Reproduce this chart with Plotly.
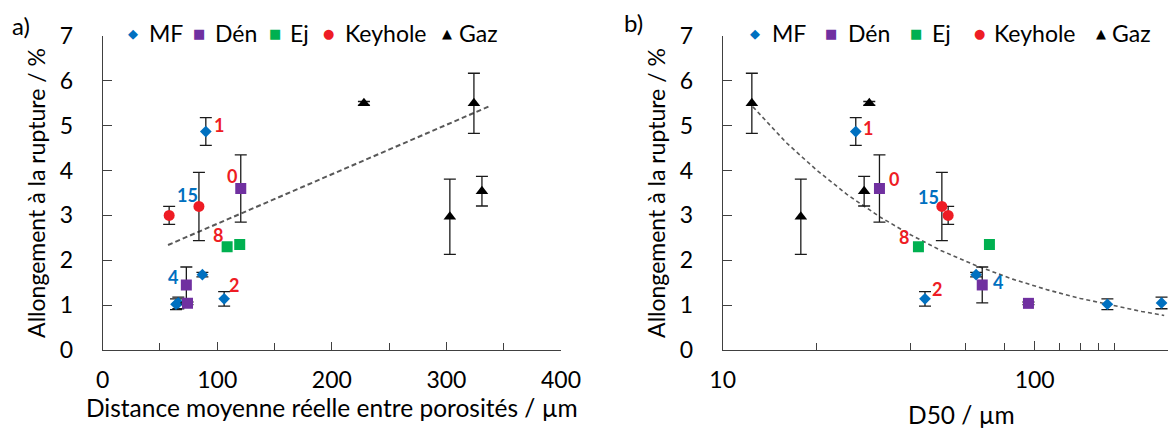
import math
import plotly.graph_objects as go

# the page puts the figure 8 px from the top-left corner, so the figure is 8 px smaller
OFF = 8
W, H = 1176 - OFF, 430 - OFF


def px(xp):
    return (xp - OFF) / W


def py(yp):
    return 1 - (yp - OFF) / H


# ---------------- data ----------------
series_names = ["MF", "Dén", "Ej", "Keyhole", "Gaz"]
series_colours = ["#0070C0", "#7030A0", "#00B050", "#EE1C24", "#000000"]
series_symbols = ["diamond", "square", "square", "circle", "triangle-up"]
series_glyphs = ["◆", "■", "■", "●", "▲"]

# elongation at rupture (%), shared by both panels
mf_y = [4.87, 1.68, 1.14, 1.02, 1.05]
mf_err = [0.31, 0.05, 0.16, 0.12, 0.13]
den_y = [3.60, 1.45, 1.04]
den_err = [0.75, 0.40, 0.03]
ej_y = [2.30, 2.35]
ej_err = [0.0, 0.0]
key_y = [3.00, 3.20]
key_err = [0.20, 0.76]
gaz_y = [5.50, 2.97, 3.54, 5.50]
gaz_err = [0.67, 0.84, 0.33, 0.04]

# panel a) mean real distance between pores (µm)
mf_dist = [90, 87, 106, 64, 66]
den_dist = [120.5, 73, 74]
ej_dist = [108.6, 119.6]
key_dist = [58, 84]
gaz_dist = [324, 303, 331, 228]

# panel b) D50 (µm)
mf_d50 = [26.7, 64.9, 44.5, 171, 255]
den_d50 = [31.8, 67.9, 95.5]
ej_d50 = [42.4, 71.6]
key_d50 = [52.8, 50.4]
gaz_d50 = [12.4, 17.8, 28.4, 29.5]

# trend lines
trend_a_x = [57, 339]
trend_a_y = [2.34, 5.45]
trend_b_x = [12.5, 16, 20, 25, 32, 40, 50, 65, 85, 110, 140, 180, 220, 260]
trend_b_y = [5.42, 4.62, 4.01, 3.47, 2.96, 2.57, 2.22, 1.88, 1.58, 1.34, 1.15, 0.98, 0.86, 0.77]

# sample labels
label_text = ["1", "0", "15", "8", "4", "2"]
label_colour = ["#EE1C24", "#EE1C24", "#0070C0", "#EE1C24", "#0070C0", "#EE1C24"]
label_a_x = [101.6, 113, 73.7, 100.8, 61.5, 114.7]
label_a_y = [5.02, 3.89, 3.46, 2.56, 1.62, 1.45]
label_b_x = [29.3, 35.4, 45.6, 38.2, 76, 48.5]
label_b_y = [4.96, 3.81, 3.42, 2.51, 1.52, 1.35]

ys = [mf_y, den_y, ej_y, key_y, gaz_y]
errs = [mf_err, den_err, ej_err, key_err, gaz_err]
xs_a = [mf_dist, den_dist, ej_dist, key_dist, gaz_dist]
xs_b = [mf_d50, den_d50, ej_d50, key_d50, gaz_d50]

FONT = "Lato"
AXIS_COL = "#404040"

fig = go.Figure()

# trend lines first
fig.add_trace(go.Scatter(x=trend_a_x, y=trend_a_y, mode="lines", showlegend=False,
                         line=dict(color="#595959", width=2, dash="5px,3px"),
                         xaxis="x", yaxis="y"))
fig.add_trace(go.Scatter(x=trend_b_x, y=trend_b_y, mode="lines", showlegend=False,
                         line=dict(color="#595959", width=1.6, dash="4px,3px"),
                         xaxis="x2", yaxis="y2"))

sizes = [9, 11, 11, 11, 11]
for i, name in enumerate(series_names):
    for xs, xa, ya in [(xs_a, "x", "y"), (xs_b, "x2", "y2")]:
        has_err = any(e > 0 for e in errs[i])
        fig.add_trace(go.Scatter(
            x=xs[i], y=ys[i], mode="markers", name=name, showlegend=False,
            marker=dict(symbol=series_symbols[i], color=series_colours[i], size=sizes[i]),
            error_y=dict(type="data", array=errs[i], visible=has_err,
                         color="#1a1a1a", thickness=1.3, width=6),
            xaxis=xa, yaxis=ya,
        ))

annotations = []
for i, t in enumerate(label_text):
    annotations.append(dict(x=label_a_x[i], y=label_a_y[i], xref="x", yref="y", text="<b>%s</b>" % t,
                            showarrow=False, font=dict(family=FONT, size=18, color=label_colour[i])))
    annotations.append(dict(x=math.log10(label_b_x[i]), y=label_b_y[i], xref="x2", yref="y2",
                            text="<b>%s</b>" % t, showarrow=False,
                            font=dict(family=FONT, size=18, color=label_colour[i])))

# legends (glyph + name), pixel positions of each entry
legend_a_glyph = [133, 199, 275, 328, 447]
legend_a_text = [147, 213, 288, 343, 457]
legend_b_glyph = [755, 831, 916, 979, 1101]
legend_b_text = [770, 846, 930, 992, 1110]
legend_y_px = 33
for glyph_x, text_x in ((legend_a_glyph, legend_a_text), (legend_b_glyph, legend_b_text)):
    for i, name in enumerate(series_names):
        annotations.append(dict(x=px(glyph_x[i]), y=py(legend_y_px), xref="paper", yref="paper",
                                text=series_glyphs[i], showarrow=False, xanchor="center", yanchor="middle",
                                font=dict(family="DejaVu Sans", size=13, color=series_colours[i])))
        annotations.append(dict(x=px(text_x[i]), y=py(legend_y_px), xref="paper", yref="paper",
                                text=name, showarrow=False, xanchor="left", yanchor="middle",
                                font=dict(family=FONT, size=23, color="black")))

annotations.append(dict(x=px(21), y=py(25), xref="paper", yref="paper", text="a)", showarrow=False,
                        xanchor="center", yanchor="middle", font=dict(family=FONT, size=24, color="black")))
annotations.append(dict(x=px(633), y=py(23), xref="paper", yref="paper", text="b)", showarrow=False,
                        xanchor="center", yanchor="middle", font=dict(family=FONT, size=24, color="black")))
# x title of panel b (centred where the reference puts it)
annotations.append(dict(x=px(961), y=py(414), xref="paper", yref="paper", text="D50 / µm",
                        showarrow=False, xanchor="center", yanchor="middle",
                        font=dict(family=FONT, size=24.5, color="black")))

y_dom = [py(350), py(36)]
common_y = dict(range=[0, 7], dtick=1, tick0=0, ticks="inside", ticklen=9, tickcolor=AXIS_COL,
                showline=True, linecolor=AXIS_COL, linewidth=1, showgrid=False, zeroline=False,
                automargin=False,
                tickfont=dict(family=FONT, size=23, color="black"), ticklabelstandoff=24,
                title=dict(text="Allongement à la rupture / %", font=dict(family=FONT, size=23, color="black"),
                           standoff=7))

fig.update_layout(
    width=W, height=H,
    margin=dict(l=0, r=0, t=0, b=0, autoexpand=False),
    paper_bgcolor="white", plot_bgcolor="white",
    showlegend=False,
    font=dict(family=FONT, color="black"),
    xaxis=dict(domain=[px(102.7), px(561)], range=[0, 400], dtick=100, ticks="inside", ticklen=8,
               tickcolor=AXIS_COL, showline=True, linecolor=AXIS_COL, linewidth=1, showgrid=False,
               zeroline=False, automargin=False,
               minor=dict(dtick=50, ticks="inside", ticklen=7, tickcolor=AXIS_COL),
               tickfont=dict(family=FONT, size=23, color="black"), ticklabelstandoff=9,
               title=dict(text="Distance moyenne réelle entre porosités / µm",
                          font=dict(family=FONT, size=24.5, color="black"), standoff=6),
               anchor="y"),
    yaxis=dict(domain=y_dom, anchor="x", **common_y),
    xaxis2=dict(domain=[px(722.7), 1.0], type="log", range=[1, 1 + (1176 - 722.7) / 312],
                tickmode="array", tickvals=[10, 100], ticktext=["10", "100"], ticks="inside", ticklen=9,
                tickcolor=AXIS_COL, showline=True, linecolor=AXIS_COL, linewidth=1, showgrid=False,
                zeroline=False, automargin=False,
                minor=dict(tickmode="array", tickvals=[20, 40, 60, 80, 120, 140, 160, 180],
                           ticks="inside", ticklen=7, tickcolor=AXIS_COL),
                tickfont=dict(family=FONT, size=23, color="black"), ticklabelstandoff=9,
                anchor="y2"),
    yaxis2=dict(domain=y_dom, anchor="x2", **common_y),
    annotations=annotations,
)

fig.write_html("out.html")
